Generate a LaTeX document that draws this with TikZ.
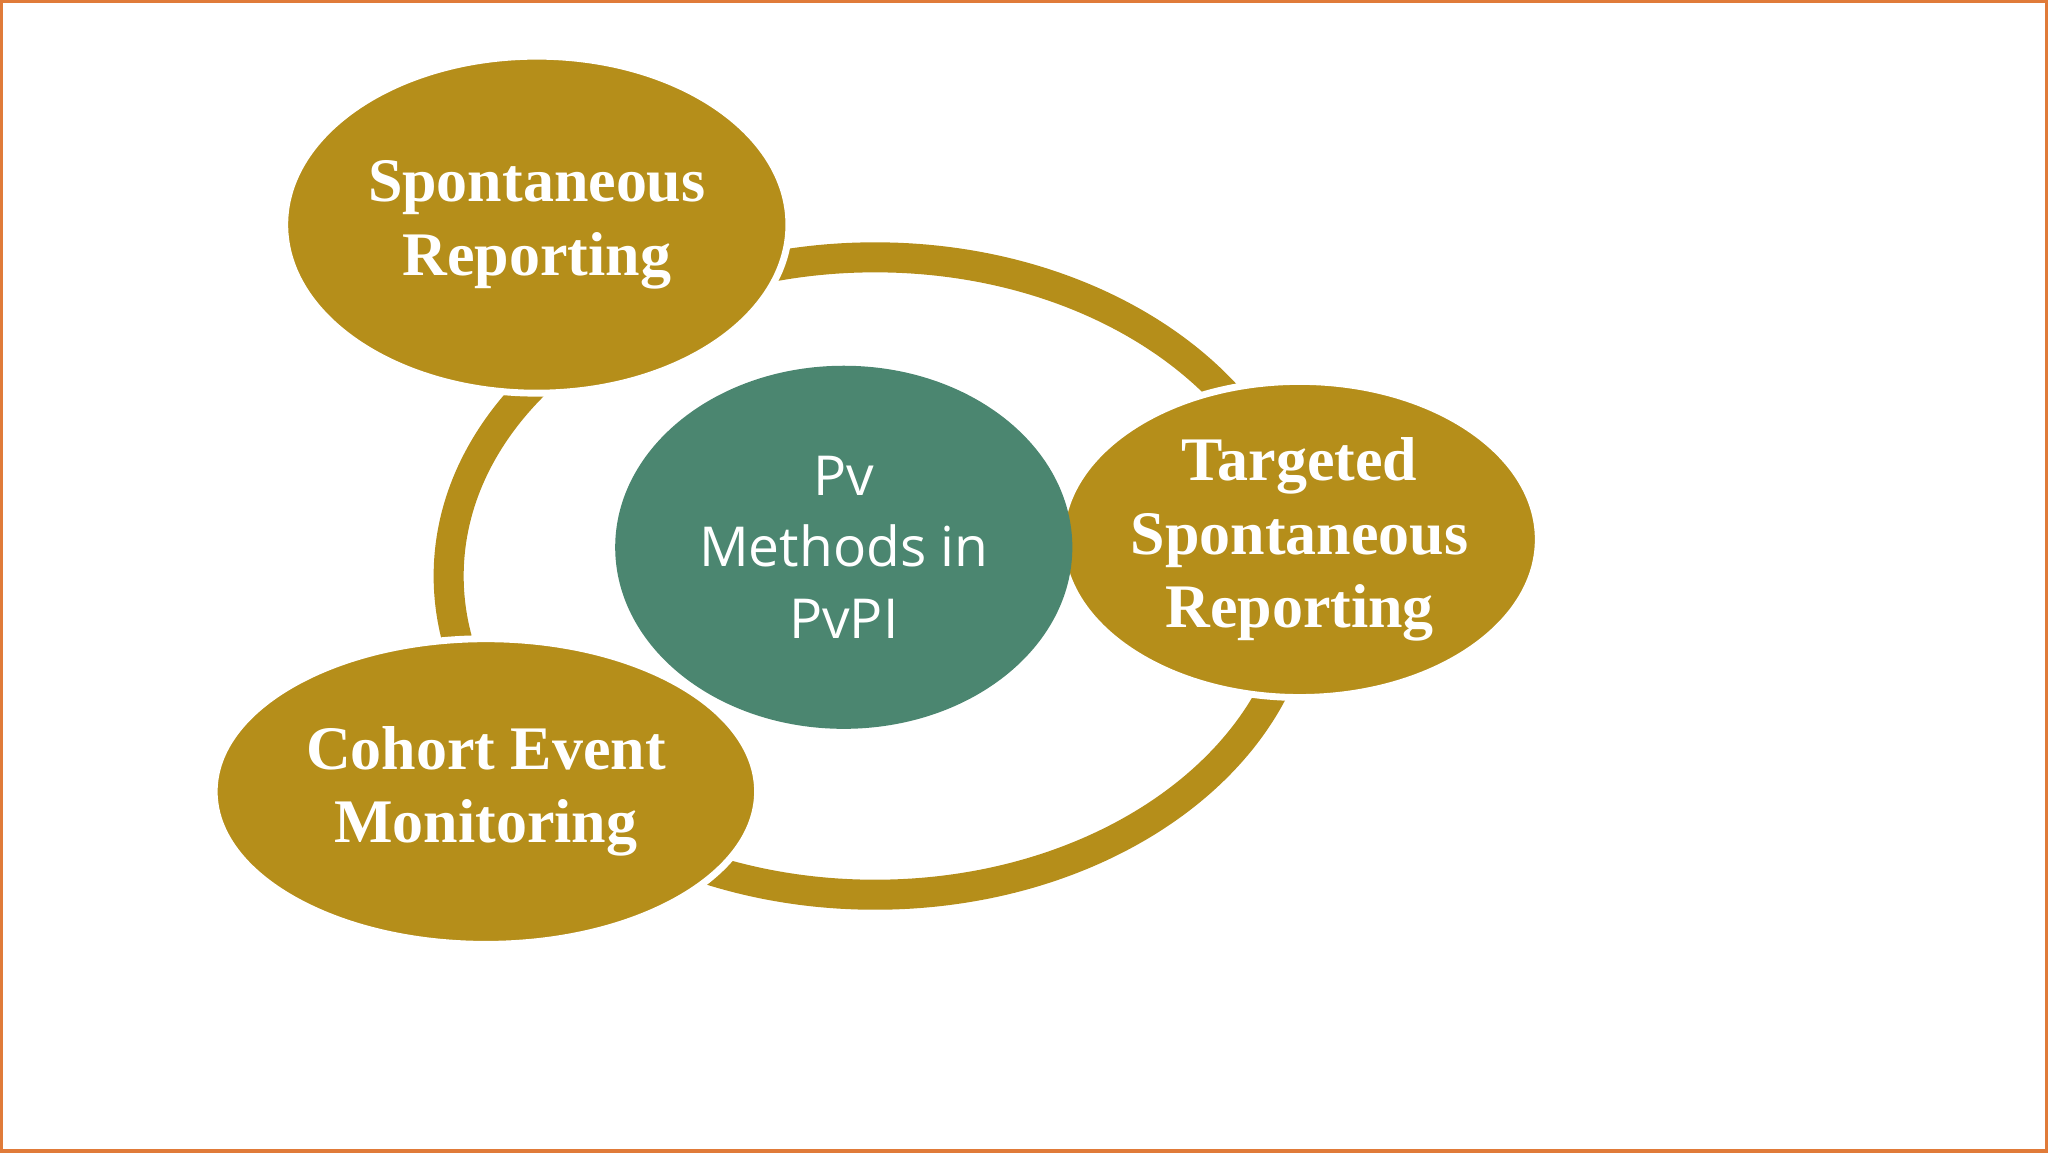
\documentclass[tikz,border=0pt]{standalone}
\usepackage{fontspec}
\usetikzlibrary{shapes.geometric}
\setmainfont{Liberation Serif}
\newfontfamily\csans{Open Sans}
\definecolor{gold}{HTML}{B58E1A}
\definecolor{teal2}{HTML}{4B8670}
\definecolor{frame}{HTML}{E07B39}
\begin{document}
\begin{tikzpicture}[
  bub/.style={ellipse, fill=gold, draw=white, line width=1.5pt, text=white, font=\bfseries\fontsize{13.5pt}{16pt}\selectfont, align=center},
  every node/.style={inner sep=0pt}]
\useasboundingbox (0,0) rectangle (15.68,-8.82);
\draw[frame, line width=0.8pt] (0.01,-0.01) rectangle (15.67,-8.81);
% ring
\draw[gold, line width=0.23cm] (6.70,-4.41) ellipse [x radius=3.265, y radius=2.44];
% bubbles
\node[bub, minimum width=3.86cm, minimum height=2.58cm] (sr) at (4.11,-1.72) {Spontaneous\\Reporting};
\node[bub, minimum width=3.18cm, minimum height=2.42cm] (tsr) at (9.95,-4.13) {Targeted\\Spontaneous\\Reporting};
\node[bub, minimum width=4.16cm, minimum height=2.34cm] (cem) at (3.72,-6.06) {Cohort Event\\Monitoring};
\node[ellipse, fill=teal2, text=white, minimum width=3.5cm, minimum height=2.78cm, align=center, font=\csans\fontsize{12pt}{15.5pt}\selectfont] (pv) at (6.46,-4.19) {Pv\\Methods in\\PvPI};
\end{tikzpicture}
\end{document}
